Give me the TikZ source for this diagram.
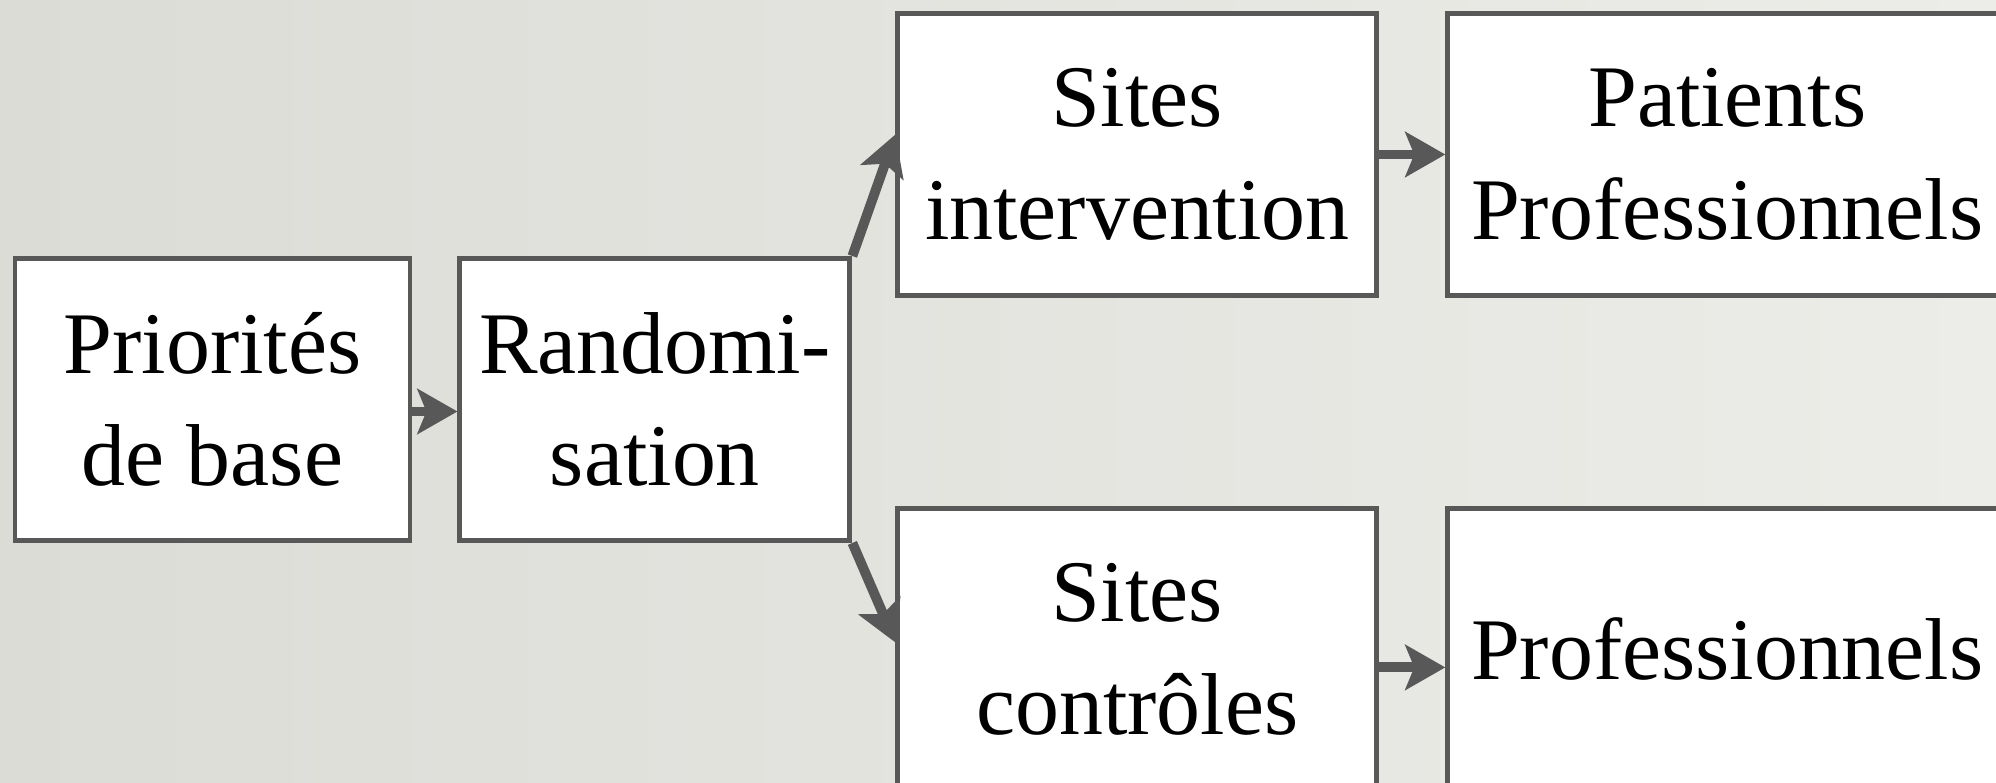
\documentclass[tikz,border=0pt]{standalone}
\usepackage{fontspec}
\setmainfont{Liberation Serif}
\usepackage{tikz}
\usetikzlibrary{arrows.meta, positioning, calc}

\definecolor{trait}{HTML}{585858}
\definecolor{fondG}{HTML}{DCDCD7}
\definecolor{fondD}{HTML}{ECECE8}

\begin{document}
\begin{tikzpicture}[
  bloc/.style={draw=trait,line width=1.4pt,fill=white,minimum height=2.82cm,
    inner sep=0pt,align=center,font=\fontsize{25}{32}\selectfont},
  fleche/.style={-{Stealth[length=4mm,width=4.5mm,inset=0.9mm]},line width=2.8pt,draw=trait}
]

% ----- Fond -----------------------------------------------------------------
\useasboundingbox (0,0) rectangle (19.96,-7.83);
\clip (0,0) rectangle (19.96,-7.83);
\shade[left color=fondG,right color=fondD] (0,0) rectangle (19.96,-7.83);

% ----- Blocs ----------------------------------------------------------------
\node[bloc,minimum width=3.95cm] (prio) at (2.125,-3.995) {Priorités\\de base};
\node[bloc,minimum width=3.90cm,right=0.45cm of prio]      (rand) {Randomi-\\sation};

\node[bloc,minimum width=4.79cm,anchor=north west] (sint)
  at ([xshift=4.3mm,yshift=24.5mm]rand.north east) {Sites\\intervention};
\node[bloc,minimum width=5.59cm,right=0.66cm of sint]      (pat)  {Patients\\Professionnels};

\node[bloc,minimum width=4.79cm,below=2.08cm of sint]      (sctl) {Sites\\contrôles};
\node[bloc,minimum width=5.59cm,right=0.66cm of sctl]      (prof) {Professionnels};

% ----- Flèches --------------------------------------------------------------
\draw[fleche] ([yshift=-1.2mm]prio.east) -- ([yshift=-1.2mm]rand.west);
\draw[fleche] (rand.north east) -- ([yshift=2mm]sint.west);
\draw[fleche] (rand.south east) -- ([yshift=0.7mm]sctl.west);
\draw[fleche] (sint.east) -- (pat.west);
\draw[fleche] ([yshift=-1.8mm]sctl.east) -- ([yshift=-1.8mm]prof.west);

\end{tikzpicture}
\end{document}
